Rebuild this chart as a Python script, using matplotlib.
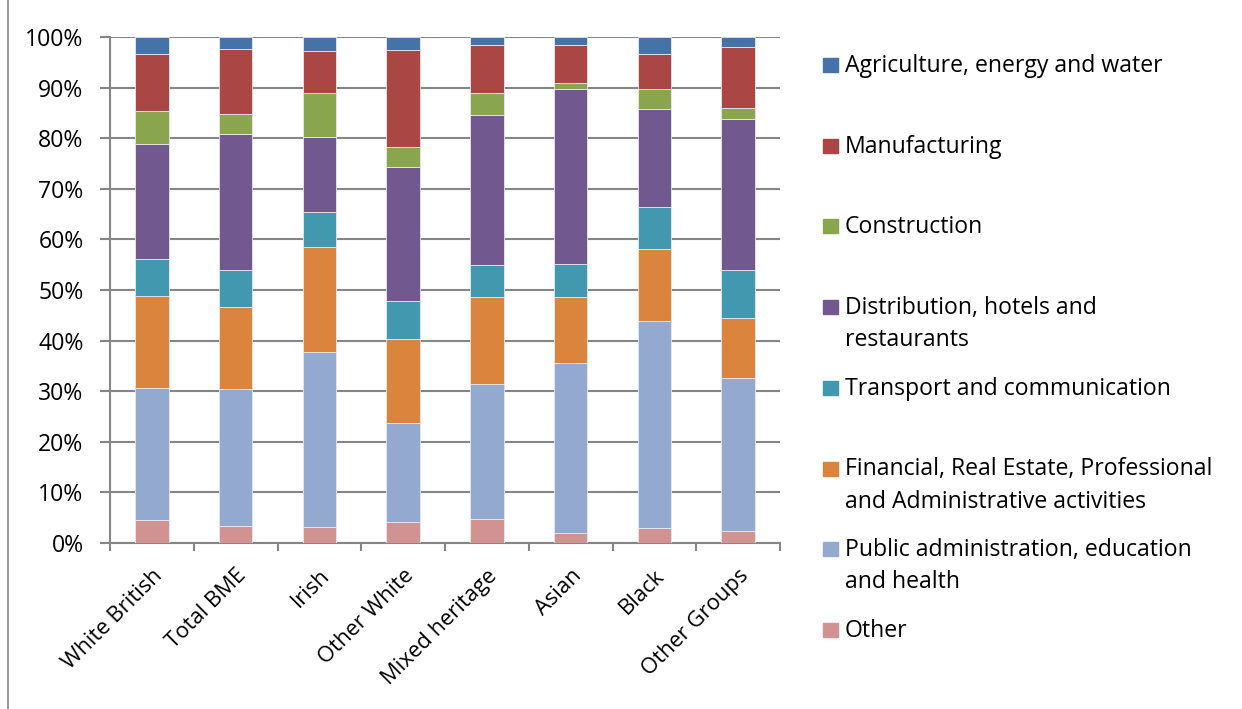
import matplotlib.pyplot as plt
from matplotlib.patches import Rectangle
from matplotlib.lines import Line2D
from matplotlib.transforms import ScaledTranslation
import numpy as np

plt.rcParams['font.family'] = ['Open Sans', 'DejaVu Sans']

groups = ['White British', 'Total BME', 'Irish', 'Other White',
          'Mixed heritage', 'Asian', 'Black', 'Other Groups']

# share of employment by sector, % (bottom to top of each bar)
other         = [4.5, 3.4, 3.2, 4.2, 4.8, 1.9, 3.0, 2.4]
public_admin  = [26.2, 27.1, 34.5, 19.6, 26.7, 33.6, 40.8, 30.3]
financial     = [18.2, 16.1, 20.7, 16.5, 17.2, 13.1, 14.3, 11.8]
transport     = [7.3, 7.3, 7.1, 7.6, 6.2, 6.5, 8.4, 9.4]
distribution  = [22.7, 27.0, 14.8, 26.5, 29.6, 34.6, 19.2, 29.9]
construction  = [6.5, 3.8, 8.6, 3.8, 4.4, 1.3, 4.1, 2.1]
manufacturing = [11.3, 13.0, 8.3, 19.2, 9.5, 7.5, 6.8, 12.1]
agriculture   = [3.3, 2.3, 2.8, 2.6, 1.6, 1.5, 3.4, 2.0]

series = [
    ('Other', other, '#D19392'),
    ('Public administration, education\nand health', public_admin, '#93A9CF'),
    ('Financial, Real Estate, Professional\nand Administrative activities', financial, '#DB843D'),
    ('Transport and communication', transport, '#4198AF'),
    ('Distribution, hotels and\nrestaurants', distribution, '#71588F'),
    ('Construction', construction, '#89A54E'),
    ('Manufacturing', manufacturing, '#AA4643'),
    ('Agriculture, energy and water', agriculture, '#4572A7'),
]

FS = 16.6
W, H = 1242, 709
fig = plt.figure(figsize=(W / 100, H / 100), dpi=100)
ax = fig.add_axes([110 / W, 1 - 543 / H, 670 / W, 506 / H])

grey = '#868686'
x = np.arange(len(groups))
bottom = np.zeros(len(groups))
for name, vals, col in series:
    ax.bar(x, vals, width=0.4, bottom=bottom, color=col,
           edgecolor='#e8e8f0', linewidth=0.6, zorder=3)
    bottom += np.array(vals)

ax.set_xlim(-0.5, len(groups) - 0.5)
ax.set_ylim(0, 100)
ax.set_yticks(np.arange(0, 101, 10))
ax.set_yticklabels([f'{v}%' for v in range(0, 101, 10)], fontsize=FS)
ax.yaxis.grid(True, color=grey, linewidth=1.5, zorder=0)
ax.set_axisbelow(True)

ax.set_xticks(x)
ax.set_xticklabels(groups, rotation=45, ha='right', va='top',
                   rotation_mode='anchor', fontsize=15.8)
# nudge the slanted names a little to the left
shift = ScaledTranslation(-6 / 100, -2 / 100, fig.dpi_scale_trans)
for lab in ax.get_xticklabels():
    lab.set_transform(lab.get_transform() + shift)
ax.set_xticks(np.arange(-0.5, len(groups)), minor=True)
ax.tick_params(axis='x', which='major', length=0, pad=16)
ax.tick_params(axis='x', which='minor', length=6, width=1.5, color=grey)
ax.tick_params(axis='y', length=7, width=1.5, color=grey, pad=12)

for s in ['top', 'right']:
    ax.spines[s].set_visible(False)
for s in ['left', 'bottom']:
    ax.spines[s].set_color(grey)
    ax.spines[s].set_linewidth(1.5)

# legend: first lines evenly spaced, top series first
y0 = 65
step = 80.7
line_px = 32
for i, (name, vals, col) in enumerate(reversed(series)):
    yc = y0 + i * step
    nlines = name.count('\n') + 1
    fig.patches.append(Rectangle((823 / W, 1 - (yc + 7) / H), 15 / W, 14 / H,
                                 transform=fig.transFigure, color=col))
    # baseline alignment goes by the last line of the label
    yb = yc + 7 + (nlines - 1) * line_px
    fig.text(845 / W, 1 - yb / H, name, fontsize=FS, va='baseline',
             ha='left', linespacing=1.45)

# chart border on the left
fig.add_artist(Line2D([8 / W, 8 / W], [0, 1], color=grey, linewidth=1.2))

fig.savefig('out.png', dpi=100)
